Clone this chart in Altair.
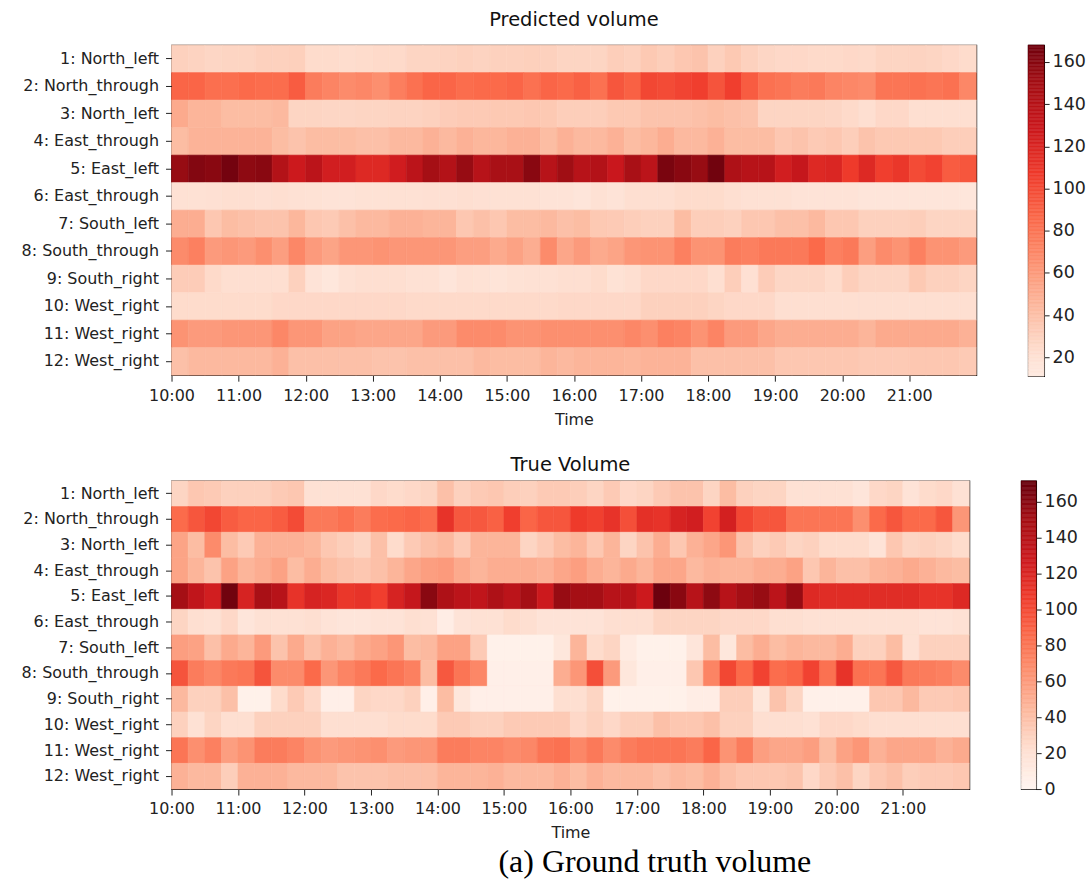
import altair as alt
import numpy as np
import pandas as pd

# ---------------- data ----------------
lanes = ["1: North_left", "2: North_through", "3: North_left", "4: East_through",
         "5: East_left", "6: East_through", "7: South_left", "8: South_through",
         "9: South_right", "10: West_right", "11: West_right", "12: West_right"]

# 48 quarter-hour slots, 10:00 - 21:45
hour_ticks = [10, 11, 12, 13, 14, 15, 16, 17, 18, 19, 20, 21]

# Predicted volume (one list per lane)
P1 = [30,29,27,28,28,30,30,31,24,24,23,24,25,25,28,28,29,30,29,30,30,31,30,28,28,28,32,30,35,32,36,38,30,35,30,27,26,26,25,25,26,25,28,28,29,28,26,24]
P2 = [88,88,83,83,86,84,84,92,76,72,68,70,66,75,82,88,88,84,86,86,88,82,88,86,90,82,95,90,102,100,103,106,96,106,92,82,80,76,78,72,70,68,80,80,82,80,82,70]
P3 = [52,46,46,42,42,42,44,28,28,27,27,28,28,29,29,30,33,34,34,35,35,36,35,32,32,32,35,35,38,38,38,40,42,40,38,28,28,28,28,27,25,22,26,26,22,22,22,22]
P4 = [42,47,47,47,47,47,42,38,42,42,42,40,40,44,44,48,44,48,45,45,48,48,42,48,44,44,48,42,45,50,44,44,48,42,42,42,36,38,34,36,32,38,35,35,35,35,32,32]
P5 = [155,162,160,167,158,160,142,128,138,125,125,118,118,126,138,150,142,155,140,148,148,160,140,152,140,142,130,148,138,165,160,155,168,145,140,140,125,132,118,120,108,118,106,110,100,104,92,95]
P6 = [20,20,21,22,22,21,22,20,19,18,18,19,19,20,20,21,21,22,21,20,20,20,18,18,16,20,18,22,22,22,24,24,24,22,20,20,20,18,18,18,18,16,16,16,16,16,16,15]
P7 = [50,50,36,42,40,38,38,45,36,34,40,44,44,48,48,46,46,36,40,36,42,42,44,40,42,35,34,32,30,30,42,32,32,30,36,36,40,40,44,36,36,30,30,30,32,28,28,28]
P8 = [68,74,60,62,60,66,58,70,60,55,62,62,64,62,62,62,62,58,58,52,56,50,68,54,60,52,55,62,64,64,74,64,64,76,74,78,78,78,86,74,78,58,68,64,74,64,64,60]
P9 = [33,33,25,22,22,22,22,30,18,14,20,22,22,22,20,20,16,20,19,17,19,20,20,22,22,24,19,22,26,26,26,26,22,32,21,33,27,27,27,24,32,27,27,27,35,30,30,28]
P10 = [24,24,24,24,24,24,26,26,26,26,26,26,26,26,25,25,25,25,25,25,25,25,25,26,26,26,26,26,30,30,30,30,28,26,26,26,22,22,22,22,22,22,22,22,22,22,22,22]
P11 = [64,60,60,62,62,62,70,62,62,56,56,54,54,54,54,60,60,68,68,68,64,64,66,66,66,66,66,70,66,74,72,64,72,60,60,54,50,50,50,50,50,46,52,52,52,52,52,48]
P12 = [40,44,44,44,44,44,48,40,40,40,40,40,38,38,40,40,40,40,44,42,42,42,46,44,46,46,46,45,47,47,47,40,40,40,40,40,36,36,36,36,36,34,34,34,36,36,36,34]

# True volume (one list per lane)
T1 = [28,36,34,30,30,30,34,36,20,20,20,20,26,24,26,28,40,30,34,36,32,30,34,34,32,28,34,26,28,34,38,38,28,42,30,28,28,20,20,20,20,16,26,28,18,24,26,20]
T2 = [85,95,102,92,88,88,92,100,78,78,82,76,84,86,88,84,112,94,94,90,106,88,95,95,108,105,112,98,114,112,122,125,104,124,102,95,95,80,80,80,80,66,86,95,86,86,95,62]
T3 = [55,42,68,42,34,48,48,48,45,36,32,28,40,24,34,40,44,34,46,46,46,28,34,42,46,36,46,28,38,50,36,48,54,62,38,30,34,28,30,24,24,24,18,36,28,30,28,24]
T4 = [55,46,38,56,46,50,56,42,50,42,38,36,40,46,54,58,60,52,46,50,50,50,48,54,58,50,46,52,46,54,54,44,48,46,46,50,50,56,36,46,40,40,46,48,52,48,44,42]
T5 = [150,135,125,168,122,148,140,112,122,120,110,112,106,122,132,160,145,138,135,145,138,150,128,155,150,150,140,140,128,170,160,140,158,140,150,155,138,155,118,116,116,116,116,116,116,112,112,118]
T6 = [28,22,20,26,16,20,20,20,22,18,16,16,18,18,22,20,8,18,20,20,24,22,18,18,18,18,22,22,22,28,28,28,28,26,26,26,22,22,20,20,20,20,20,20,20,18,18,20]
T7 = [58,56,40,52,46,60,38,52,40,48,44,52,56,62,42,44,56,56,34,4,4,4,4,14,46,24,28,10,4,4,4,16,42,14,42,50,42,46,44,44,50,30,30,42,20,30,30,30]
T8 = [96,76,70,78,80,96,68,68,86,62,72,78,86,80,74,42,94,80,70,6,6,6,6,50,62,98,60,14,6,6,6,36,72,102,86,104,84,88,104,82,112,82,80,94,78,76,74,68]
T9 = [44,30,30,40,4,4,24,34,26,6,6,28,26,26,30,6,42,14,6,6,6,6,6,22,22,28,4,4,4,4,4,8,8,32,32,14,38,28,5,5,5,5,36,36,44,34,34,36]
T10 = [30,20,28,22,22,30,30,30,30,22,22,22,22,24,24,24,34,34,30,30,34,34,34,34,26,30,26,32,32,40,36,36,40,30,30,22,22,22,20,26,26,24,22,22,22,22,22,22]
T11 = [80,66,74,58,64,76,76,72,64,60,62,64,66,60,62,62,76,76,72,72,68,70,80,82,70,78,68,76,80,80,80,76,88,64,76,58,54,54,58,42,56,62,48,54,54,54,48,52]
T12 = [48,44,44,32,48,48,48,44,44,44,38,38,38,40,40,40,46,46,46,48,44,44,44,48,42,48,44,44,44,40,44,42,48,40,36,36,36,38,26,34,40,28,36,40,32,34,34,36]

pred_rows = [P1, P2, P3, P4, P5, P6, P7, P8, P9, P10, P11, P12]
true_rows = [T1, T2, T3, T4, T5, T6, T7, T8, T9, T10, T11, T12]

pred_range = [11, 168]
true_range = [0, 171.6]
pred_cb_ticks = [20, 40, 60, 80, 100, 120, 140, 160]
true_cb_ticks = [0, 20, 40, 60, 80, 100, 120, 140, 160]

# matplotlib "Reds"
REDS = ["#fff5f0", "#fee0d2", "#fcbba1", "#fc9272", "#fb6a4a",
        "#ef3b2c", "#cb181d", "#a50f15", "#67000d"]

FONT = "DejaVu Sans"
INK = "#222222"


def long_table(rows):
    recs = []
    for lane, vals in zip(lanes, rows):
        for slot, v in enumerate(vals):
            recs.append({"lane": lane, "slot": slot, "volume": v})
    return pd.DataFrame(recs)


def color_scale(vr):
    return alt.Scale(domain=list(np.linspace(vr[0], vr[1], 9)), range=REDS,
                     interpolate="rgb", clamp=True)


def heatmap(rows, vr, w, h, title, title_offset):
    sc = color_scale(vr)
    return (
        alt.Chart(long_table(rows))
        .transform_calculate(t0="10 + datum.slot / 4", t1="10 + (datum.slot + 1) / 4")
        .mark_rect(strokeWidth=0.6)
        .encode(
            x=alt.X("t0:Q", scale=alt.Scale(domain=[10, 22], nice=False, zero=False),
                    axis=alt.Axis(values=hour_ticks, labelExpr="datum.value + ':00'",
                                  title="Time", labelFont=FONT, titleFont=FONT,
                                  labelFontSize=16, titleFontSize=16,
                                  titleFontWeight="normal", tickSize=6, labelPadding=6,
                                  titlePadding=8, labelFlush=False, domain=False,
                                  grid=False, tickColor=INK, labelColor=INK,
                                  titleColor=INK)),
            x2="t1:Q",
            y=alt.Y("lane:N", sort=lanes,
                    scale=alt.Scale(paddingInner=0, paddingOuter=0),
                    axis=alt.Axis(title=None, labelFont=FONT, labelFontSize=16,
                                  tickSize=6, labelPadding=7, labelLimit=300,
                                  domain=False, grid=False, tickColor=INK,
                                  labelColor=INK)),
            color=alt.Color("volume:Q", scale=sc, legend=None),
            stroke=alt.Stroke("volume:Q", scale=sc, legend=None),
        )
        .properties(width=w, height=h,
                    title=alt.TitleParams(title, fontSize=19.5, fontWeight="normal",
                                          font=FONT, anchor="middle",
                                          offset=title_offset, color="#111"))
    )


def colorbar(vr, ticks, w, h):
    edges = np.linspace(vr[0], vr[1], 241)
    cb = pd.DataFrame({"lo": edges[:-1], "hi": edges[1:]})
    cb["v"] = (cb["lo"] + cb["hi"]) / 2
    sc = color_scale(vr)
    return (
        alt.Chart(cb)
        .mark_rect(strokeWidth=0.5)
        .encode(
            y=alt.Y("lo:Q", scale=alt.Scale(domain=vr, nice=False, zero=False),
                    axis=alt.Axis(orient="right", values=ticks, title=None,
                                  labelFont=FONT, labelFontSize=17.5, tickSize=5,
                                  labelPadding=3, domain=False, grid=False,
                                  tickColor=INK, labelColor=INK)),
            y2="hi:Q",
            color=alt.Color("v:Q", scale=sc, legend=None),
            stroke=alt.Stroke("v:Q", scale=sc, legend=None),
        )
        .properties(width=w, height=h)
    )


top = alt.hconcat(
    heatmap(pred_rows, pred_range, 807, 331, "Predicted volume", 14),
    colorbar(pred_range, pred_cb_ticks, 16, 332),
    spacing=50,
)
bottom = alt.hconcat(
    heatmap(true_rows, true_range, 800, 309, "True Volume", 5),
    colorbar(true_range, true_cb_ticks, 15, 309),
    spacing=50,
)

chart = (
    alt.vconcat(top, bottom, spacing=26)
    .properties(
        padding={"left": 20, "top": 8, "right": 0, "bottom": 0},
        title=alt.TitleParams("(a)  Ground truth volume", orient="bottom",
                              font="Liberation Serif", fontSize=32,
                              fontWeight="normal", anchor="middle", dx=102,
                              offset=6, color="#000"),
    )
    .configure(background="white")
    .configure_view(stroke="#000", strokeWidth=1.2)
)

chart.save("out.html", embed_options={"renderer": "svg", "actions": False})
